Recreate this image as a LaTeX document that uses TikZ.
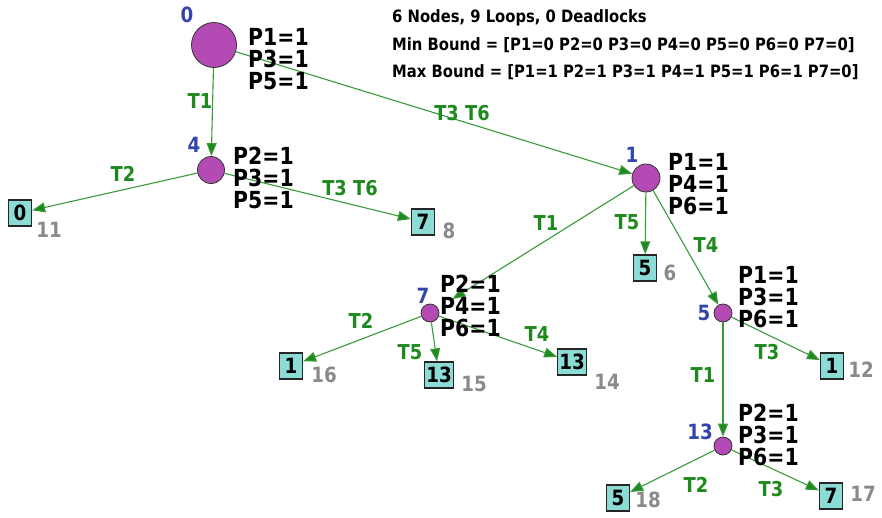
\documentclass[tikz,border=0pt]{standalone}
\usepackage{fontspec}
\setmainfont{DejaVu Sans}
\newfontfamily\cnd[FakeStretch=0.87]{DejaVu Sans}
\usetikzlibrary{arrows.meta}
\definecolor{edgegreen}{HTML}{3A9A3A}
\definecolor{labgreen}{HTML}{1E8A1E}
\definecolor{nodeblue}{HTML}{3344AA}
\definecolor{statefill}{HTML}{B44BB4}
\definecolor{boxfill}{HTML}{8ADCD4}
\definecolor{numgray}{HTML}{8A8A8A}
\begin{document}
\begin{tikzpicture}[x=1pt,y=-1pt,
  state/.style={circle,draw=black!80,fill=statefill,inner sep=0pt,line width=0.8pt},
  leaf/.style={draw=black!85,fill=boxfill,line width=1.3pt,inner sep=1.5pt,minimum height=26pt,minimum width=23pt,font=\cnd\bfseries\fontsize{21}{21}\selectfont},
  props/.style={anchor=west,align=left,font=\cnd\bfseries\fontsize{23.5}{22}\selectfont,inner sep=0pt},
  sid/.style={text=nodeblue,font=\cnd\bfseries\fontsize{21}{21}\selectfont,inner sep=0pt},
  lid/.style={text=numgray,font=\cnd\bfseries\fontsize{21}{21}\selectfont,inner sep=0pt},
  tl/.style={text=labgreen,font=\cnd\bfseries\fontsize{20.5}{20.5}\selectfont,inner sep=0pt},
  tr/.style={draw=edgegreen,line width=1.1pt,-{Triangle[length=13pt,width=10pt,fill=labgreen]}},
  hdr/.style={anchor=west,font=\cnd\bfseries\fontsize{17}{17}\selectfont,inner sep=0pt}]
\useasboundingbox (0,0) rectangle (882,517);
% states
\node[state,minimum size=45pt] (s0) at (214,45) {};
\node[state,minimum size=27pt] (s4) at (211,170) {};
\node[state,minimum size=28pt] (s1) at (646,178) {};
\node[state,minimum size=18pt] (s7) at (430,313) {};
\node[state,minimum size=18pt] (s5) at (723,313) {};
\node[state,minimum size=18pt] (s13) at (723,446) {};
% leaves
\node[leaf] (b11) at (20,213) {0};
\node[leaf] (b8) at (423,222) {7};
\node[leaf] (b6) at (645,268) {5};
\node[leaf] (b16) at (291,366) {1};
\node[leaf] (b15) at (439,375) {13};
\node[leaf] (b14) at (572,362) {13};
\node[leaf] (b12) at (832,366) {1};
\node[leaf] (b18) at (618,498) {5};
\node[leaf] (b17) at (831,496) {7};
% edges
\draw[tr] (s0) -- (s4);
\draw[tr] (s0) -- (s1);
\draw[tr] (s4) -- (b11);
\draw[tr] (s4) -- (b8);
\draw[tr,shorten >=17pt] (s1) -- (s7);
\draw[tr] (s1) -- (b6);
\draw[tr] (s1) -- (s5);
\draw[tr] (s7) -- (b16);
\draw[tr] (s7) -- (b15);
\draw[tr] (s7) -- (b14);
\draw[tr] (s5) -- (b12);
\draw[tr] (s5) -- (s13);
\draw[tr] (s13) -- (b18);
\draw[tr] (s13) -- (b17);
% header
\node[hdr] (h1) at (392,18) {6 Nodes, 9 Loops, 0 Deadlocks};
\node[hdr] (h2) at (392,45) {Min Bound = [P1=0 P2=0 P3=0 P4=0 P5=0 P6=0 P7=0]};
\node[hdr] (h3) at (392,72) {Max Bound = [P1=1 P2=1 P3=1 P4=1 P5=1 P6=1 P7=0]};
% state ids
\node[sid] (i0) at (187,15) {0};
\node[sid] (i4) at (194,145) {4};
\node[sid] (i1) at (632,155) {1};
\node[sid] (i7) at (423,296) {7};
\node[sid] (i5) at (704,313) {5};
\node[sid] (i13) at (700,432) {13};
% props
\node[props] (p0) at (248,59) {P1=1\\P3=1\\P5=1};
\node[props] (p4) at (233,178) {P2=1\\P3=1\\P5=1};
\node[props] (p1) at (668,184) {P1=1\\P4=1\\P6=1};
\node[props] (p7) at (440,306) {P2=1\\P4=1\\P6=1};
\node[props] (p5) at (738,297) {P1=1\\P3=1\\P6=1};
\node[props] (p13) at (738,435) {P2=1\\P3=1\\P6=1};
% leaf numbers
\node[lid] (n11) at (49,230) {11};
\node[lid] (n8) at (449,231) {8};
\node[lid] (n6) at (670,273) {6};
\node[lid] (n16) at (324,375) {16};
\node[lid] (n15) at (474,384) {15};
\node[lid] (n14) at (607,382) {14};
\node[lid] (n12) at (861,370) {12};
\node[lid] (n18) at (648,500) {18};
\node[lid] (n17) at (863,494) {17};
% edge labels
\node[tl] (t01) at (200,101) {T1};
\node[tl] (t02) at (462,113) {T3 T6};
\node[tl] (t41) at (123,174) {T2};
\node[tl] (t42) at (350,188) {T3 T6};
\node[tl] (t11) at (546,223) {T1};
\node[tl] (t12) at (627,222) {T5};
\node[tl] (t13) at (706,245) {T4};
\node[tl] (t71) at (361,321) {T2};
\node[tl] (t72) at (410,352) {T5};
\node[tl] (t73) at (537,334) {T4};
\node[tl] (t51) at (767,352) {T3};
\node[tl] (t52) at (703,375) {T1};
\node[tl] (t131) at (696,485) {T2};
\node[tl] (t132) at (771,489) {T3};
\end{tikzpicture}
\end{document}
